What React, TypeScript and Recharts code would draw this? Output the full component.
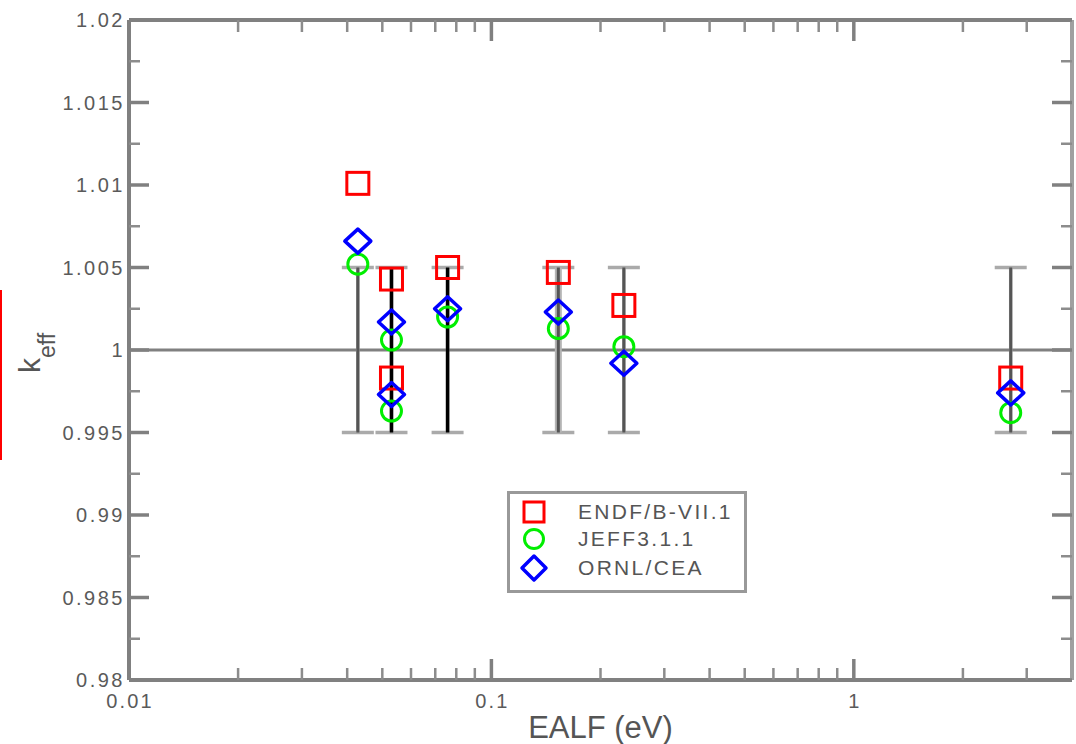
import React from 'react';
import { ScatterChart, Scatter, XAxis, YAxis, ErrorBar, ReferenceLine } from 'recharts';

// benchmark cases: energy of average lethargy causing fission (eV)
const caseEalf = [0.0428, 0.053, 0.053, 0.0757, 0.153, 0.232, 2.71];
const endfKeff = [1.0101, 1.0043, 0.9983, 1.005, 1.0047, 1.0027, 0.9983];
const jeffKeff = [1.0052, 1.0006, 0.9963, 1.002, 1.0013, 1.0002, 0.9962];
const ornlKeff = [1.0066, 1.0017, 0.9973, 1.0025, 1.0023, 0.9992, 0.9974];

// experimental uncertainty bars
const allBarEalf = [0.0428, 0.053, 0.0757, 0.153, 0.232, 2.71];
const blackBarEalf = [0.053, 0.0757];
const greyBarEalf = [0.0428, 0.153, 0.232, 2.71];
const lightBarEalf = [0.153];
const expKeff = 1.0;
const expUnc = 0.005;

const xMajorTicks = [0.01, 0.1, 1];
const xMinorTicks = [0.02, 0.03, 0.04, 0.05, 0.06, 0.07, 0.08, 0.09, 0.2, 0.3, 0.4, 0.5, 0.6, 0.7, 0.8, 0.9, 2, 3];
const yMajorTicks = [0.98, 0.985, 0.99, 0.995, 1, 1.005, 1.01, 1.015, 1.02];
const yMinorTicks = [0.9825, 0.9875, 0.9925, 0.9975, 1.0025, 1.0075, 1.0125, 1.0175];

const seriesNames = ['ENDF/B-VII.1', 'JEFF3.1.1', 'ORNL/CEA'];

const toPoints = (ys: number[]) => caseEalf.map((x, i) => ({ x, y: ys[i] }));
const toBars = (xs: number[]) => xs.map((x) => ({ x, y: expKeff, err: expUnc }));

const FONT = '"Liberation Sans", Arial, sans-serif';
const AXIS = '#808080';
const fmt = (v: number) => String(Number(v.toFixed(4)));

const XTick = (props: any) => {
  const { x, y, payload, side } = props;
  const major = xMajorTicks.includes(payload.value);
  const len = major ? 21 : 12;
  const dir = side === 'top' ? 1 : -1;
  return (
    <g>
      <line x1={x} y1={y} x2={x} y2={y + dir * len} stroke={major ? AXIS : '#8c8c8c'} strokeWidth={major ? 3.5 : 2.5} />
      {side !== 'top' && major && (
        <text x={x + 1} y={y + 28} textAnchor="middle" fontFamily={FONT} fontSize={20} letterSpacing={2.2} fill="#5a5a5a">
          {fmt(payload.value)}
        </text>
      )}
    </g>
  );
};

const YTick = (props: any) => {
  const { x, y, payload, side } = props;
  const major = yMajorTicks.includes(payload.value);
  const len = major ? 20 : 11;
  const dir = side === 'right' ? -1 : 1;
  return (
    <g>
      <line x1={x} y1={y} x2={x + dir * len} y2={y} stroke={major ? AXIS : '#8c8c8c'} strokeWidth={major ? 3.5 : 2.5} />
      {side !== 'right' && major && (
        <text x={x - 4} y={y + 7} textAnchor="end" fontFamily={FONT} fontSize={20} letterSpacing={2.5} fill="#5a5a5a">
          {fmt(payload.value)}
        </text>
      )}
    </g>
  );
};

const Square = ({ cx, cy }: any) => (
  <rect x={cx - 11} y={cy - 11} width={22} height={22} fill="none" stroke="#ff0000" strokeWidth={3} />
);
const Ring = ({ cx, cy }: any) => <circle cx={cx} cy={cy} r={10} fill="none" stroke="#00ee00" strokeWidth={3} />;
const Diamond = ({ cx, cy }: any) => (
  <polygon
    points={`${cx},${cy - 12} ${cx + 13},${cy} ${cx},${cy + 12} ${cx - 13},${cy}`}
    fill="none"
    stroke="#0000ff"
    strokeWidth={3.5}
    strokeLinejoin="round"
  />
);
const NoShape = () => <g />;

const legendShapes = [
  <rect x={3} y={3} width={20} height={20} fill="none" stroke="#ff0000" strokeWidth={3} />,
  <circle cx={13} cy={13} r={9.5} fill="none" stroke="#00ee00" strokeWidth={3} />,
  <polygon points="13,1 25,13 13,25 1,13" fill="none" stroke="#0000ff" strokeWidth={3.5} strokeLinejoin="round" />,
];

export default function App() {
  return (
    <div style={{ position: 'absolute', left: 0, top: 0, width: 1076, height: 744, background: '#fff' }}>
      <ScatterChart width={1076} height={744} margin={{ top: 19, right: 3, bottom: 0, left: 0 }}>
        <XAxis
          type="number"
          dataKey="x"
          scale="log"
          domain={[0.01, 4]}
          allowDataOverflow
          ticks={[...xMajorTicks, ...xMinorTicks]}
          interval={0}
          tick={<XTick side="bottom" />}
          tickLine={false}
          tickSize={0}
          tickMargin={0}
          height={64}
          axisLine={{ stroke: AXIS, strokeWidth: 4 }}
          label={{
            content: (p: any) => {
              const vb = p.viewBox;
              return (
                <text x={vb.x + vb.width / 2} y={vb.y + 58} textAnchor="middle" fontFamily={FONT} fontSize={31} fill="#555">
                  EALF (eV)
                </text>
              );
            },
          }}
        />
        <XAxis
          xAxisId="top"
          orientation="top"
          type="number"
          dataKey="x"
          scale="log"
          domain={[0.01, 4]}
          allowDataOverflow
          ticks={[...xMajorTicks, ...xMinorTicks]}
          interval={0}
          tick={<XTick side="top" />}
          tickLine={false}
          tickSize={0}
          tickMargin={0}
          height={1}
          axisLine={{ stroke: AXIS, strokeWidth: 4 }}
        />
        <YAxis
          type="number"
          dataKey="y"
          domain={[0.98, 1.02]}
          allowDataOverflow
          ticks={[...yMajorTicks, ...yMinorTicks]}
          interval={0}
          tick={<YTick side="left" />}
          tickLine={false}
          tickSize={0}
          tickMargin={0}
          width={129}
          axisLine={{ stroke: AXIS, strokeWidth: 4 }}
          label={{
            content: (p: any) => {
              const vb = p.viewBox;
              return (
                <text
                  transform={`translate(${vb.x + 40},${vb.y + vb.height / 2 + 23}) rotate(-90)`}
                  fontFamily={FONT}
                  fontSize={30}
                  fill="#555"
                >
                  <tspan>k</tspan>
                  <tspan fontSize={23} dy={15}>eff</tspan>
                </text>
              );
            },
          }}
        />
        <YAxis
          yAxisId="right"
          orientation="right"
          type="number"
          dataKey="y"
          domain={[0.98, 1.02]}
          allowDataOverflow
          ticks={[...yMajorTicks, ...yMinorTicks]}
          interval={0}
          tick={<YTick side="right" />}
          tickLine={false}
          tickSize={0}
          tickMargin={0}
          width={1}
          axisLine={{ stroke: '#a0a0a0', strokeWidth: 4 }}
        />
        <ReferenceLine y={expKeff} stroke={AXIS} strokeWidth={3} />
        {/* light caps for every bar, drawn under the coloured stems */}
        <Scatter xAxisId="top" yAxisId="right" data={toBars(allBarEalf)} shape={NoShape} isAnimationActive={false}>
          <ErrorBar dataKey="err" direction="y" width={16} stroke="#aaaaaa" strokeWidth={3.5} isAnimationActive={false} />
        </Scatter>
        <Scatter data={toBars(lightBarEalf)} shape={NoShape} isAnimationActive={false}>
          <ErrorBar dataKey="err" direction="y" width={0} stroke="#b4b4b4" strokeWidth={7} isAnimationActive={false} />
        </Scatter>
        <Scatter data={toBars(greyBarEalf)} shape={NoShape} isAnimationActive={false}>
          <ErrorBar dataKey="err" direction="y" width={0} stroke="#555" strokeWidth={3} isAnimationActive={false} />
        </Scatter>
        <Scatter data={toBars(blackBarEalf)} shape={NoShape} isAnimationActive={false}>
          <ErrorBar dataKey="err" direction="y" width={0} stroke="#000" strokeWidth={3.5} isAnimationActive={false} />
        </Scatter>
        <Scatter name={seriesNames[0]} data={toPoints(endfKeff)} shape={Square} isAnimationActive={false} />
        <Scatter name={seriesNames[1]} data={toPoints(jeffKeff)} shape={Ring} isAnimationActive={false} />
        <Scatter name={seriesNames[2]} data={toPoints(ornlKeff)} shape={Diamond} isAnimationActive={false} />
      </ScatterChart>

      <div style={{ position: 'absolute', left: 0, top: 290, width: 2, height: 170, background: '#ff0000' }} />

      <div
        style={{
          position: 'absolute',
          left: 507,
          top: 491,
          width: 240,
          height: 102,
          boxSizing: 'border-box',
          border: '3px solid #999',
          background: '#fff',
        }}
      >
        {seriesNames.map((name, i) => (
          <div key={name} style={{ position: 'absolute', left: 11, top: 4 + [0, 27, 56][i], height: 28, display: 'flex', alignItems: 'center' }}>
            <svg width={26} height={26} style={{ overflow: 'visible' }}>
              {legendShapes[i]}
            </svg>
            <span style={{ marginLeft: 31, fontFamily: FONT, fontSize: 21, letterSpacing: 2.3, color: '#555', lineHeight: '28px' }}>
              {name}
            </span>
          </div>
        ))}
      </div>
    </div>
  );
}
